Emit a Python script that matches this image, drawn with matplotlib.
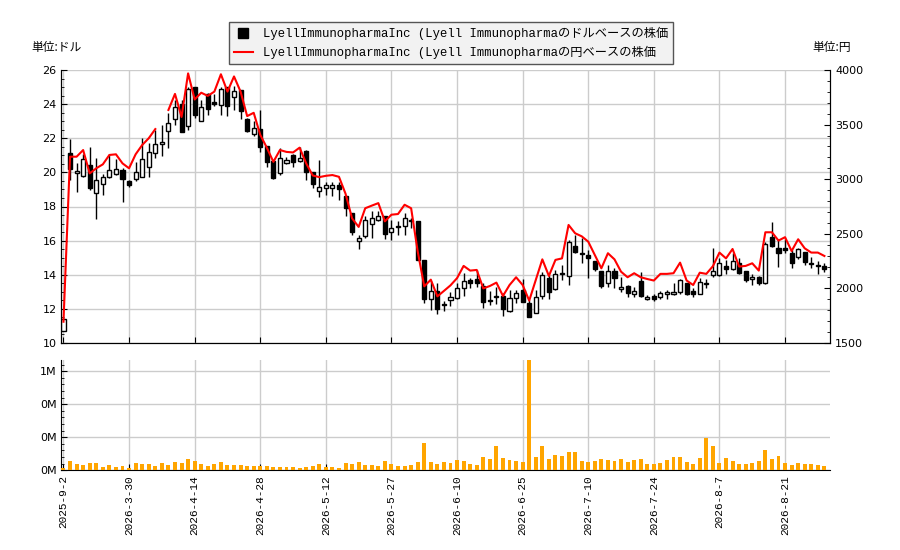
import numpy as np
import matplotlib
matplotlib.use("Agg")
import matplotlib.pyplot as plt
from matplotlib.lines import Line2D
from matplotlib.ticker import MultipleLocator, FuncFormatter, FixedLocator
from matplotlib.font_manager import FontProperties

# ---------------- data ----------------
opens = [10.7, 21.12, 19.94, 19.81, 20.43, 18.77, 19.3, 19.71, 19.88, 20.12,
         19.49, 19.59, 19.75, 20.3, 21.12, 21.64, 22.45, 23.12, 24.02, 22.7,
         25.02, 23.01, 24.57, 24.13, 23.92, 25.0, 24.43, 24.82, 23.15, 22.27,
         22.56, 21.52, 20.68, 19.95, 20.54, 21.03, 20.64, 21.27, 20.01, 18.91,
         19.06, 19.06, 19.26, 18.59, 17.62, 16.0, 16.29, 16.99, 17.19, 17.46,
         16.52, 16.84, 16.88, 17.23, 17.17, 14.88, 12.58, 13.03, 12.3, 12.5,
         12.62, 13.2, 13.69, 13.73, 13.34, 12.52, 12.72, 12.78, 11.88, 12.62,
         13.1, 12.37, 11.78, 12.78, 13.8, 13.15, 14.12, 13.93, 15.69, 15.26,
         15.16, 14.81, 14.22, 13.5, 14.22, 13.15, 13.34, 12.86, 13.64, 12.6,
         12.78, 12.72, 12.87, 12.87, 12.97, 13.5, 13.07, 12.86, 13.5, 13.97,
         13.97, 14.52, 14.32, 14.71, 14.22, 13.73, 13.85, 13.5, 16.2, 15.55,
         15.55, 15.3, 15.02, 15.36, 14.67, 14.55, 14.52]
highs = [11.45, 21.96, 20.53, 21.1, 21.5, 20.82, 19.9, 21.06, 20.78, 20.24,
         19.55, 20.63, 22.0, 21.7, 22.5, 22.78, 23.47, 24.27, 24.27, 25.02,
         25.02, 24.27, 24.66, 24.6, 25.02, 25.0, 25.06, 24.85, 23.2, 23.0,
         23.68, 21.55, 20.7, 21.42, 20.93, 21.05, 21.5, 21.3, 20.02, 20.73,
         19.46, 19.46, 19.46, 18.6, 17.62, 16.35, 17.42, 17.71, 17.75, 17.46,
         17.23, 17.17, 17.62, 17.32, 17.17, 14.88, 13.61, 13.52, 12.44, 13.0,
         13.5, 14.12, 13.8, 14.28, 13.5, 13.07, 13.3, 12.91, 13.1, 13.1,
         13.73, 12.52, 13.1, 14.18, 13.99, 14.28, 14.57, 16.04, 16.33, 16.14,
         15.45, 14.81, 14.22, 14.57, 14.38, 13.85, 13.4, 13.3, 14.18, 12.82,
         12.86, 13.07, 13.1, 13.5, 13.75, 13.5, 13.2, 13.79, 13.75, 15.59,
         14.96, 14.87, 15.26, 14.96, 14.22, 14.05, 13.93, 15.94, 17.11, 16.08,
         16.08, 15.45, 15.59, 15.36, 15.06, 14.81, 14.71]
lows = [10.7, 19.55, 18.87, 19.75, 18.97, 17.27, 18.67, 19.65, 19.85, 18.28,
        19.16, 19.51, 19.7, 19.75, 20.82, 20.98, 21.4, 22.8, 22.35, 22.46,
        23.19, 23.0, 23.39, 23.88, 23.39, 23.29, 23.68, 23.15, 22.35, 22.11,
        21.19, 20.34, 19.6, 19.85, 20.5, 20.3, 20.6, 19.56, 19.06, 18.57,
        18.67, 18.6, 18.4, 17.42, 16.35, 15.5, 16.15, 16.15, 17.13, 16.09,
        16.02, 16.35, 16.35, 16.74, 14.84, 12.34, 11.95, 11.72, 11.86, 12.15,
        12.55, 12.76, 13.2, 13.3, 12.03, 12.23, 12.29, 11.59, 11.84, 12.33,
        12.4, 11.51, 11.78, 12.58, 12.56, 13.1, 13.69, 13.4, 15.3, 14.71,
        13.79, 14.24, 13.2, 13.27, 13.2, 13.01, 12.68, 12.72, 12.72, 12.52,
        12.46, 12.56, 12.56, 12.82, 12.87, 12.8, 12.68, 12.86, 13.2, 13.89,
        13.93, 14.05, 14.28, 14.05, 13.6, 13.4, 13.4, 13.46, 15.65, 14.48,
        15.26, 14.42, 14.9, 14.57, 14.38, 14.05, 14.18]
closes = [11.4, 20.2, 20.08, 20.76, 19.1, 19.53, 19.71, 20.12, 20.18, 19.63,
          19.26, 20.04, 20.76, 21.17, 21.64, 21.76, 22.88, 23.82, 22.35, 24.86,
          23.35, 23.84, 23.72, 24.02, 24.9, 23.88, 24.76, 23.58, 22.4, 22.6,
          21.46, 20.58, 19.69, 20.83, 20.73, 20.58, 20.83, 20.05, 19.3, 19.16,
          19.26, 19.26, 19.0, 17.91, 16.48, 16.15, 17.23, 17.32, 17.42, 16.39,
          16.74, 16.78, 17.32, 17.13, 14.88, 12.58, 13.03, 11.99, 12.23, 12.7,
          13.2, 13.66, 13.5, 13.54, 12.42, 12.46, 12.76, 11.98, 12.62, 12.95,
          12.42, 11.55, 12.72, 14.0, 12.97, 14.03, 14.03, 15.9, 15.36, 15.22,
          14.96, 14.32, 13.36, 14.24, 13.83, 13.3, 12.91, 13.07, 12.78, 12.72,
          12.58, 12.95, 12.99, 12.97, 13.68, 12.87, 12.86, 13.56, 13.44, 14.22,
          14.67, 14.32, 14.83, 14.12, 13.69, 13.89, 13.54, 15.8, 15.71, 15.3,
          15.47, 14.71, 15.49, 14.77, 14.63, 14.52, 14.32]
yen_close = [1695, 3206, 3206, 3267, 3053, 3100, 3136, 3222, 3228, 3145,
             3100, 3228, 3313, 3375, 3459, np.nan, 3634, 3781, 3570, 3969,
             3730, 3792, 3763, 3802, 3961, 3802, 3941, 3802, 3578, 3608,
             3406, 3289, 3159, 3267, 3250, 3245, 3289, 3145, 3034, 3019,
             3031, 3038, 3022, 2867, 2641, 2563, 2734, 2758, 2781, 2614,
             2675, 2681, 2766, 2734, 2339, 2019, 2080, 1927, 1977, 2028,
             2094, 2206, 2163, 2169, 2000, 2022, 2053, 1931, 2031, 2102,
             2031, 1888, 2077, 2266, 2114, 2261, 2275, 2581, 2505, 2477,
             2428, 2306, 2184, 2322, 2266, 2153, 2102, 2139, 2102, 2086,
             2072, 2133, 2133, 2139, 2236, 2072, 2031, 2144, 2133, 2203,
             2328, 2275, 2361, 2200, 2206, 2230, 2163, 2514, 2514, 2438,
             2469, 2342, 2450, 2367, 2328, 2328, 2297]
volumes = [14e3, 57e3, 38e3, 32e3, 44e3, 44e3, 20e3, 32e3, 20e3, 26e3,
           14e3, 44e3, 38e3, 38e3, 26e3, 44e3, 32e3, 51e3, 44e3, 69e3,
           57e3, 38e3, 26e3, 38e3, 51e3, 32e3, 32e3, 32e3, 26e3, 26e3,
           26e3, 26e3, 20e3, 20e3, 20e3, 20e3, 14e3, 20e3, 26e3, 38e3,
           20e3, 20e3, 14e3, 44e3, 38e3, 51e3, 32e3, 32e3, 26e3, 57e3,
           38e3, 26e3, 26e3, 32e3, 51e3, 166e3, 51e3, 38e3, 51e3, 44e3,
           63e3, 57e3, 38e3, 32e3, 81e3, 69e3, 147e3, 75e3, 63e3, 57e3,
           51e3, 760e3, 81e3, 147e3, 69e3, 93e3, 87e3, 111e3, 111e3, 57e3,
           51e3, 57e3, 69e3, 63e3, 57e3, 69e3, 51e3, 63e3, 69e3, 38e3,
           38e3, 44e3, 63e3, 81e3, 81e3, 51e3, 38e3, 75e3, 196e3, 147e3,
           44e3, 75e3, 57e3, 38e3, 38e3, 44e3, 57e3, 123e3, 69e3, 87e3,
           44e3, 32e3, 44e3, 38e3, 38e3, 32e3, 26e3]
tick_labels = ["2025-9-2", "2026-3-30", "2026-4-14", "2026-4-28", "2026-5-12",
               "2026-5-27", "2026-6-10", "2026-6-25", "2026-7-10", "2026-7-24",
               "2026-8-7", "2026-8-21"]
tick_step = 10
legend_labels = ["LyellImmunopharmaInc (Lyell Immunopharmaのドルベースの株価",
                 "LyellImmunopharmaInc (Lyell Immunopharmaの円ベースの株価"]

# ---------------- plot ----------------
plt.rcParams['font.family'] = ['DejaVu Sans', 'Noto Sans CJK JP']
o = np.array(opens); h = np.array(highs); l = np.array(lows); c = np.array(closes)
n = len(o)
x = np.arange(n)
tick_pos = np.arange(len(tick_labels)) * tick_step

fig = plt.figure(figsize=(9, 5.5), dpi=100)
W, H = 900, 550
ax = fig.add_axes([61.5 / W, 1 - 343 / H, (830.3 - 61.5) / W, 273 / H])
axv = fig.add_axes([61.5 / W, 1 - 470.3 / H, (830.3 - 61.5) / W, 110.3 / H])
ax2 = ax.twinx()

grid_c = "#cccccc"
xl = (-0.3, n - 0.1)

# candles
up = c >= o
body_lo = np.minimum(o, c)
body_h = np.maximum(np.abs(c - o), 0.06)
ax.vlines(x, l, h, color="black", lw=1, zorder=3)
ax.bar(x[up], body_h[up], bottom=body_lo[up], width=0.62, facecolor="white",
       edgecolor="black", linewidth=1, zorder=4)
ax.bar(x[~up], body_h[~up], bottom=body_lo[~up], width=0.62, facecolor="black",
       edgecolor="black", linewidth=1, zorder=4)

ax.set_xlim(*xl)
ax.set_ylim(10, 26)
ax.yaxis.set_major_locator(MultipleLocator(2))
ax.yaxis.set_minor_locator(MultipleLocator(0.5))
ax.xaxis.set_major_locator(FixedLocator(tick_pos))
ax.set_xticklabels([])
ax.grid(True, color=grid_c, lw=1, zorder=0)
ax.set_axisbelow(True)
ax.tick_params(axis="both", which="both", direction="in", labelsize=8)
ax.tick_params(axis="y", which="major", length=4)
ax.tick_params(axis="y", which="minor", length=2)
ax.tick_params(axis="x", length=4)
ax.spines["top"].set_visible(False)

# yen line
ax2.plot(x, yen_close, color="red", lw=1.5, zorder=5)
ax2.set_ylim(1500, 4000)
ax2.set_xlim(*xl)
ax2.yaxis.set_major_locator(MultipleLocator(500))
ax2.yaxis.set_minor_locator(MultipleLocator(100))
ax2.tick_params(axis="y", which="both", direction="in", labelsize=8)
ax2.tick_params(axis="y", which="major", length=4)
ax2.tick_params(axis="y", which="minor", length=2)
ax2.spines["top"].set_visible(False)

# volume
axv.bar(x, volumes, width=0.6, color="#FFA500", zorder=3)
axv.set_xlim(*xl)
axv.set_ylim(0, 668e3)
axv.yaxis.set_major_locator(FixedLocator([0, 200e3, 400e3, 600e3]))
axv.yaxis.set_minor_locator(MultipleLocator(40e3))
axv.yaxis.set_major_formatter(FuncFormatter(lambda v, _: f"{v / 1e6:.0f}M"))
axv.xaxis.set_major_locator(FixedLocator(tick_pos))
axv.set_xticklabels(tick_labels, rotation=90,
                    fontproperties=FontProperties(family=["Liberation Mono", "DejaVu Sans"], size=7.5))
axv.grid(True, color=grid_c, lw=1, zorder=0)
axv.set_axisbelow(True)
axv.tick_params(axis="both", which="both", direction="in", labelsize=8)
axv.tick_params(axis="y", which="major", length=4)
axv.tick_params(axis="y", which="minor", length=2)
axv.tick_params(axis="x", length=4)
for s in ("top", "right"):
    axv.spines[s].set_visible(False)

# units
fig.text(31 / W, 1 - 47 / H, "単位:ドル", fontsize=8.5, va="center", ha="left",
         family=["Noto Sans CJK JP", "DejaVu Sans"])
fig.text(851 / W, 1 - 47 / H, "単位:円", fontsize=8.5, va="center", ha="right",
         family=["Noto Sans CJK JP", "DejaVu Sans"])

# legend
handles = [Line2D([], [], marker="s", color="black", linestyle="none", markersize=7),
           Line2D([], [], color="red", lw=1.5)]
leg = fig.legend(handles, legend_labels, loc="upper center",
                 bbox_to_anchor=(451 / W, 1 - 22 / H), borderaxespad=0,
                 prop=FontProperties(family=["Liberation Mono", "Noto Sans CJK JP"], size=8.8),
                 frameon=True, fancybox=False, edgecolor="#555555", facecolor="#f2f2f2",
                 framealpha=1, borderpad=0.4, labelspacing=0.45, handlelength=1.6,
                 handletextpad=0.8)
leg.get_frame().set_linewidth(1)

fig.savefig("out.png", dpi=100)
